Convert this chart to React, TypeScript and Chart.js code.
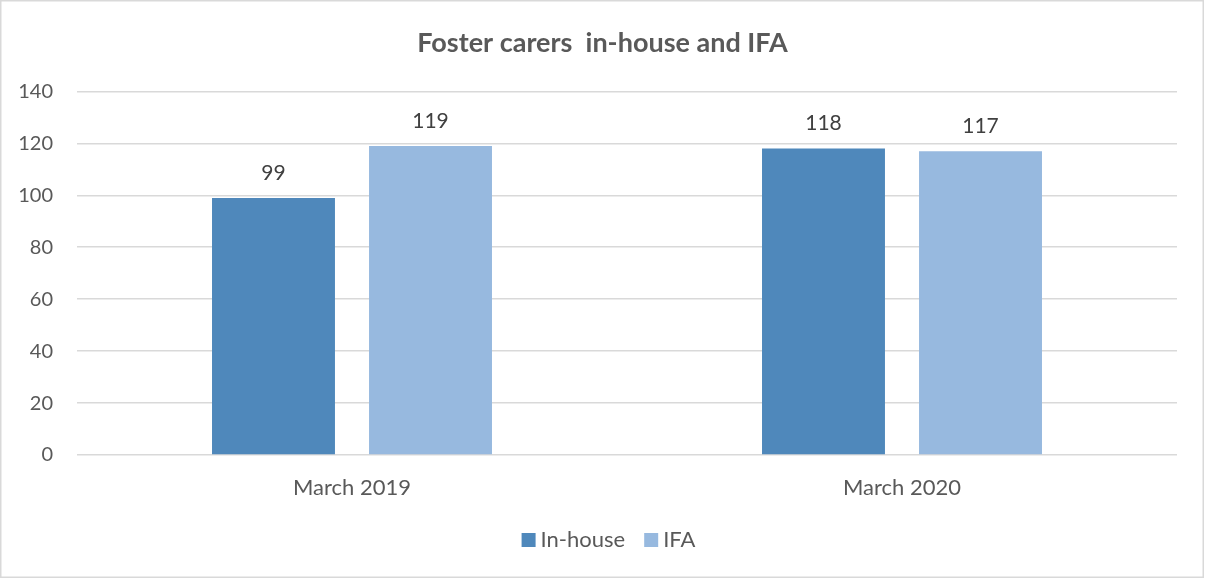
import React, { useEffect, useRef } from "react";
import { Chart, registerables } from "chart.js";

Chart.register(...registerables);

const titleText = "Foster carers  in-house and IFA";
const categories = ["March 2019", "March 2020"];
const seriesNames = ["In-house", "IFA"];
const inHouse = [99, 118];
const ifa = [119, 117];
const yMin = 0;
const yMax = 140;
const yStep = 20;

const colors = ["#4f88bb", "#97b9df"];
const textColor = "#595959";
const fontFamily = "Lato, 'Open Sans', sans-serif";

const borderPlugin = {
  id: "frameBorder",
  beforeDraw(chart: any) {
    const { ctx, width, height } = chart;
    ctx.save();
    ctx.fillStyle = "#ffffff";
    ctx.fillRect(0, 0, width, height);
    ctx.strokeStyle = "#d9d9d9";
    ctx.lineWidth = 1.5;
    ctx.strokeRect(0.75, 0.75, width - 2.5, height - 2.5);
    ctx.restore();
  },
};

const dataLabelPlugin = {
  id: "barValueLabels",
  afterDatasetsDraw(chart: any) {
    const { ctx } = chart;
    ctx.save();
    ctx.fillStyle = "#404040";
    ctx.font = `21px ${fontFamily}`;
    ctx.textAlign = "center";
    ctx.textBaseline = "middle";
    chart.data.datasets.forEach((ds: any, i: number) => {
      const meta = chart.getDatasetMeta(i);
      meta.data.forEach((bar: any, j: number) => {
        ctx.fillText(String(ds.data[j]), bar.x, bar.y - 25);
      });
    });
    ctx.restore();
  },
};

const legendPlugin = {
  id: "bottomLegend",
  afterDraw(chart: any) {
    const { ctx } = chart;
    const box = 14;
    const gapText = 5;
    const gapItem = 19;
    ctx.save();
    ctx.font = `22px ${fontFamily}`;
    ctx.textBaseline = "middle";
    ctx.textAlign = "left";
    const items = chart.data.datasets.map((ds: any) => ({
      label: ds.label,
      color: ds.backgroundColor,
      w: ctx.measureText(ds.label).width,
    }));
    let total = 0;
    items.forEach((it: any, i: number) => {
      total += box + gapText + it.w + (i < items.length - 1 ? gapItem : 0);
    });
    const cy = chart.chartArea.bottom + 85;
    let x = chart.width / 2 + 6 - total / 2;
    items.forEach((it: any) => {
      ctx.fillStyle = it.color;
      ctx.fillRect(x, cy - box / 2, box, box);
      x += box + gapText;
      ctx.fillStyle = textColor;
      ctx.fillText(it.label, x, cy);
      x += it.w + gapItem;
    });
    ctx.restore();
  },
};

export default function App() {
  const canvasRef = useRef<HTMLCanvasElement | null>(null);

  useEffect(() => {
    if (!canvasRef.current) return;
    const chart = new Chart(canvasRef.current, {
      type: "bar",
      data: {
        labels: categories,
        datasets: [
          {
            label: seriesNames[0],
            data: inHouse,
            backgroundColor: colors[0],
            borderWidth: 0,
            categoryPercentage: 0.571,
            barPercentage: 0.783,
          },
          {
            label: seriesNames[1],
            data: ifa,
            backgroundColor: colors[1],
            borderWidth: 0,
            categoryPercentage: 0.571,
            barPercentage: 0.783,
          },
        ],
      },
      options: {
        animation: false,
        responsive: true,
        maintainAspectRatio: false,
        layout: { padding: { left: 0, right: 0, top: 0, bottom: 59 } },
        plugins: {
          title: {
            display: true,
            text: titleText,
            color: textColor,
            font: { family: fontFamily, size: 27, weight: "bold" },
            padding: { top: 27, bottom: 32 },
          },
          legend: { display: false },
          tooltip: { enabled: false },
        },
        scales: {
          x: {
            grid: { display: false },
            border: { display: false },
            ticks: {
              color: textColor,
              font: { family: fontFamily, size: 22 },
              padding: 12,
            },
            afterFit(scale: any) {
              scale.height = 65;
            },
          },
          y: {
            min: yMin,
            max: yMax,
            grid: { color: "#d9d9d9", lineWidth: 1.5, drawTicks: false },
            border: { display: false },
            ticks: {
              stepSize: yStep,
              color: textColor,
              font: { family: fontFamily, size: 20 },
              padding: 24,
            },
            afterFit(scale: any) {
              scale.width = 77;
            },
          },
          yRightSpacer: {
            type: "linear",
            position: "right",
            display: true,
            grid: { display: false, drawTicks: false },
            border: { display: false },
            ticks: { display: false },
            afterFit(scale: any) {
              scale.width = 28;
            },
          },
        },
      },
      plugins: [borderPlugin, dataLabelPlugin, legendPlugin],
    });
    return () => chart.destroy();
  }, []);

  return (
    <div style={{ position: "fixed", left: 0, top: 0, width: 1205, height: 579 }}>
      <canvas ref={canvasRef} />
    </div>
  );
}
